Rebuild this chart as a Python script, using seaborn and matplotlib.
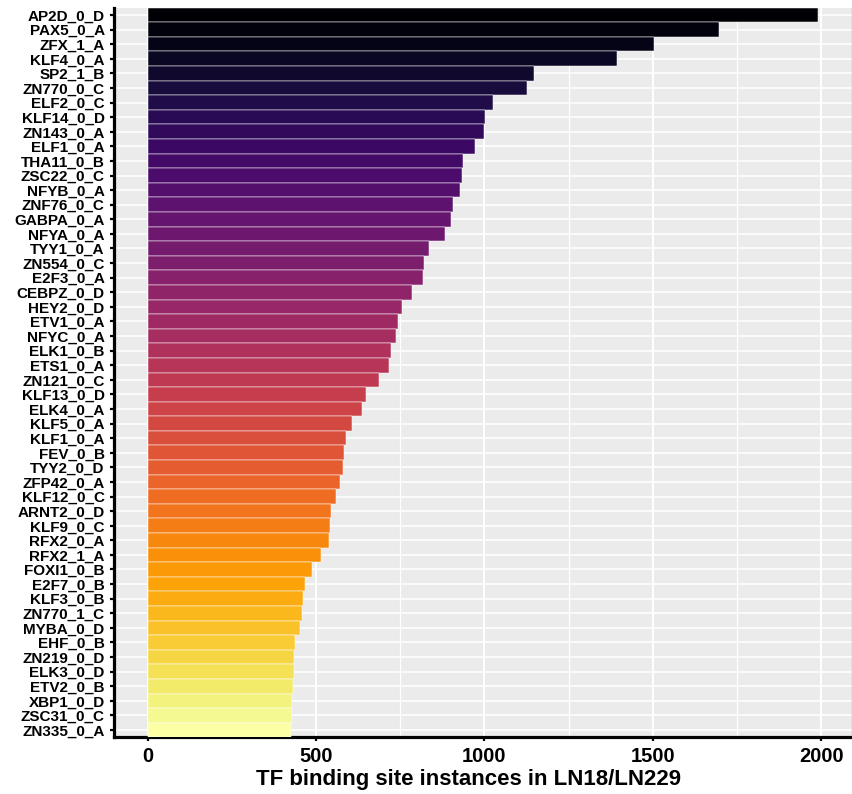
import numpy as np
import pandas as pd
import matplotlib
matplotlib.use("Agg")
import matplotlib.pyplot as plt
from matplotlib.ticker import MultipleLocator
import seaborn as sns

# fatores de transcrição e número de instâncias
motivos = [
    "AP2D_0_D", "PAX5_0_A", "ZFX_1_A", "KLF4_0_A", "SP2_1_B", "ZN770_0_C",
    "ELF2_0_C", "KLF14_0_D", "ZN143_0_A", "ELF1_0_A", "THA11_0_B", "ZSC22_0_C",
    "NFYB_0_A", "ZNF76_0_C", "GABPA_0_A", "NFYA_0_A", "TYY1_0_A", "ZN554_0_C",
    "E2F3_0_A", "CEBPZ_0_D", "HEY2_0_D", "ETV1_0_A", "NFYC_0_A", "ELK1_0_B",
    "ETS1_0_A", "ZN121_0_C", "KLF13_0_D", "ELK4_0_A", "KLF5_0_A", "KLF1_0_A",
    "FEV_0_B", "TYY2_0_D", "ZFP42_0_A", "KLF12_0_C", "ARNT2_0_D", "KLF9_0_C",
    "RFX2_0_A", "RFX2_1_A", "FOXI1_0_B", "E2F7_0_B", "KLF3_0_B", "ZN770_1_C",
    "MYBA_0_D", "EHF_0_B", "ZN219_0_D", "ELK3_0_D", "ETV2_0_B", "XBP1_0_D",
    "ZSC31_0_C", "ZN335_0_A",
]
instancias = [
    1992, 1696, 1503, 1395, 1148, 1127,
    1027, 1003, 998, 971, 938, 935,
    929, 906, 900, 882, 835, 821,
    818, 785, 756, 744, 738, 723,
    717, 688, 650, 638, 608, 588,
    582, 579, 573, 561, 546, 543,
    540, 516, 488, 468, 462, 459,
    453, 438, 435, 435, 431, 429,
    429, 426,
]

df = pd.DataFrame({"motivo": motivos, "n": instancias})
cores = [matplotlib.colors.to_hex(c) for c in plt.cm.inferno(np.linspace(0, 1, len(motivos)))]

sns.set_theme(style="darkgrid")
plt.rcParams["font.family"] = ["Liberation Sans", "DejaVu Sans"]
plt.rcParams["font.weight"] = "bold"

fig = plt.figure(figsize=(8.53, 7.94), dpi=100)
ax = fig.add_axes([0.1336, 0.0714, 0.8652, 0.9189])
ax.set_facecolor("#EBEBEB")

sns.barplot(data=df, x="n", y="motivo", hue="motivo", palette=cores, legend=False,
            saturation=1, width=1.0, edgecolor="white", linewidth=0.35, ax=ax, zorder=3)

ax.set_xlim(-99.6, 2091.6)
ax.set_ylim(49.5, -0.5)
ax.xaxis.set_major_locator(MultipleLocator(500))
ax.xaxis.set_minor_locator(MultipleLocator(250))
ax.grid(True, which="major", axis="x", color="white", linewidth=1.4, zorder=0)
ax.grid(True, which="minor", axis="x", color="white", linewidth=0.9, zorder=0)
ax.grid(True, which="major", axis="y", color="white", linewidth=1.1, zorder=0)
ax.set_axisbelow(True)

ax.spines["top"].set_visible(False)
ax.spines["right"].set_visible(True)
ax.spines["right"].set_color("#333333")
ax.spines["right"].set_linewidth(0.8)
for lado in ["left", "bottom"]:
    ax.spines[lado].set_visible(True)
    ax.spines[lado].set_color("black")
    ax.spines[lado].set_linewidth(2.3)

ax.tick_params(axis="both", which="major", length=3.2, width=1.6, color="black",
               bottom=True, left=True)
ax.tick_params(axis="x", which="minor", length=0)
ax.tick_params(axis="y", labelsize=11, pad=3.5)
ax.tick_params(axis="x", labelsize=14.5, pad=3.5)
for t in ax.get_xticklabels() + ax.get_yticklabels():
    t.set_fontweight("bold")
    t.set_color("black")

ax.set_ylabel("")
ax.set_xlabel("TF binding site instances in LN18/LN229", fontsize=16,
              fontweight="bold", color="black")
ax.xaxis.set_label_coords(0.48, -0.043)

plt.savefig("out.png", dpi=100)
plt.close()
